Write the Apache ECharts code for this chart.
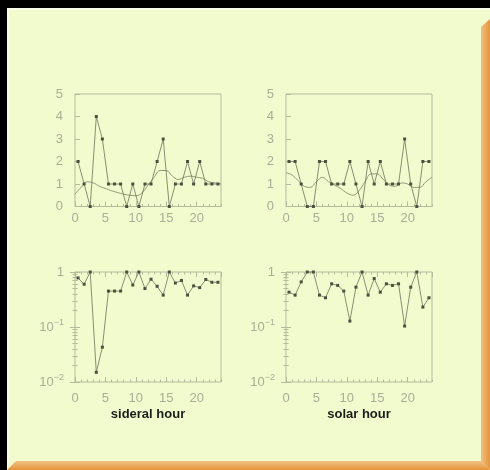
<!DOCTYPE html>
<html>
<head>
<meta charset="utf-8">
<script src="https://cdn.jsdelivr.net/npm/echarts@6/dist/echarts.min.js"></script>
<style>
  html, body { margin: 0; padding: 0; background: #000; }
  #stage { position: relative; width: 490px; height: 470px; overflow: hidden; background: #000; }
  #panel { position: absolute; left: 7px; top: 8px; width: 483px; height: 462px; background: #f1fbcd;
           box-shadow: inset 2px 2px 0 #fbffea; }
  #bevelRight { position: absolute; left: 481px; top: 8px; width: 9px; height: 462px;
                background: linear-gradient(to right, #efc080, #e5953f);
                clip-path: polygon(0 19px, 100% 11px, 100% 100%, 0 calc(100% - 9px)); }
  #bevelBottom { position: absolute; left: 7px; top: 461px; width: 483px; height: 9px;
                 background: linear-gradient(to bottom, #f0c283, #e5933d);
                 clip-path: polygon(9px 0, calc(100% - 9px) 0, 100% 100%, 0 100%); }
  #chart { position: absolute; left: 0; top: 0; width: 490px; height: 470px; }
</style>
</head>
<body>
<div id="stage">
  <div id="panel"></div>
  <div id="bevelRight"></div>
  <div id="bevelBottom"></div>
  <div id="chart"></div>
</div>
<script>
// Hour bins (events are plotted at the bin centre)
const hourBins = [0, 1, 2, 3, 4, 5, 6, 7, 8, 9, 10, 11, 12, 13, 14, 15, 16, 17, 18, 19, 20, 21, 22, 23];
// Hours at which the expected-rate curve is sampled
const curveHours = [0, 1, 2, 3, 4, 5, 6, 7, 8, 9, 10, 11, 12, 13, 14, 15, 16, 17, 18, 19, 20, 21, 22, 23, 24];

// Sidereal time: event counts, expected rate, chance probability
const siderealCounts = [2, 1, 0, 4, 3, 1, 1, 1, 0, 1, 0, 1, 1, 2, 3, 0, 1, 1, 2, 1, 2, 1, 1, 1];
const siderealExpected = [0.55, 0.85, 1.1, 1.05, 0.9, 0.8, 0.7, 0.62, 0.55, 0.5, 0.48, 0.6, 0.95, 1.3, 1.6,
                          1.6, 1.35, 1.2, 1.3, 1.35, 1.3, 1.25, 1.1, 1.05, 1.0];
const siderealProb = [0.78, 0.6, 1, 0.015, 0.043, 0.45, 0.45, 0.45, 1, 0.58, 1, 0.5, 0.74, 0.55, 0.38,
                      1, 0.63, 0.7, 0.38, 0.56, 0.52, 0.73, 0.65, 0.65];

// Solar time: event counts, expected rate, chance probability
const solarCounts = [2, 2, 1, 0, 0, 2, 2, 1, 1, 1, 2, 1, 0, 2, 1, 2, 1, 1, 1, 3, 1, 0, 2, 2];
const solarExpected = [1.5, 1.4, 1.15, 0.9, 0.85, 1.1, 1.3, 1.1, 0.95, 0.8, 0.6, 0.5, 0.7, 1.1, 1.45,
                       1.45, 1.2, 0.95, 0.9, 1.05, 1.0, 0.85, 0.85, 1.1, 1.3];
const solarProb = [0.43, 0.38, 0.66, 1, 1, 0.38, 0.34, 0.61, 0.57, 0.45, 0.128, 0.53, 1, 0.38, 0.76,
                   0.43, 0.61, 0.57, 0.61, 0.104, 0.53, 1, 0.23, 0.34];

// Axis tick values
const countTicks = [0, 1, 2, 3, 4, 5];
const hourLabelStep = 5;
const logMinorTicks = [0.02, 0.03, 0.04, 0.05, 0.06, 0.07, 0.08, 0.09,
                       0.2, 0.3, 0.4, 0.5, 0.6, 0.7, 0.8, 0.9];
const axisTitles = ['sideral hour', 'solar hour'];

const COL = { box: '#b5ba9c', label: '#a9ae97', line: '#6c735a', mark: '#4b513f', curve: '#7a8166', title: '#1c1c1c' };
const FONT = '"Liberation Sans", Arial, Helvetica, sans-serif';

const gridBoxes = [
  { left: 75, top: 94, width: 146, height: 112.5 },
  { left: 286, top: 94, width: 146, height: 112.5 },
  { left: 75, top: 272, width: 146, height: 110 },
  { left: 286, top: 272, width: 146, height: 110 }
];
const grid = gridBoxes.map(g => Object.assign({
  show: true, borderColor: COL.box, borderWidth: 1, backgroundColor: 'transparent'
}, g));

const tickStyle = { color: COL.box, width: 1 };
const labelBase = { color: COL.label, fontSize: 13, fontFamily: FONT };

const xAxis = [];
const yAxis = [];
const mainX = [];
const mainY = [];

function addHourAxes(gi, mirrored, title) {
  const common = { gridIndex: gi, type: 'value', min: 0, max: 24, splitLine: { show: false }, axisLine: { show: false } };
  mainX[gi] = xAxis.length;
  xAxis.push(Object.assign({}, common, {
    position: 'bottom', interval: hourLabelStep,
    axisTick: { inside: true, length: 5, lineStyle: tickStyle },
    axisLabel: Object.assign({}, labelBase, {
      margin: mirrored ? 10 : 5, showMaxLabel: false,
      formatter: v => (v % hourLabelStep === 0 && v < 24) ? String(v) : ''
    }),
    name: title || '', nameLocation: 'middle', nameGap: 26,
    nameTextStyle: { color: COL.title, fontSize: 13, fontWeight: 'bold', fontFamily: FONT }
  }));
  xAxis.push(Object.assign({}, common, {
    position: 'bottom', interval: 1,
    axisTick: { inside: true, length: 2.5, lineStyle: tickStyle }, axisLabel: { show: false }
  }));
  if (mirrored) {
    xAxis.push(Object.assign({}, common, {
      position: 'top', interval: hourLabelStep,
      axisTick: { inside: true, length: 5, lineStyle: tickStyle }, axisLabel: { show: false }
    }));
    xAxis.push(Object.assign({}, common, {
      position: 'top', interval: 1,
      axisTick: { inside: true, length: 2.5, lineStyle: tickStyle }, axisLabel: { show: false }
    }));
  }
}

function addCountAxis(gi) {
  mainY[gi] = yAxis.length;
  yAxis.push({
    gridIndex: gi, type: 'value', min: countTicks[0], max: countTicks[countTicks.length - 1], interval: 1,
    position: 'left', splitLine: { show: false }, axisLine: { show: false },
    axisTick: { inside: true, length: 5, lineStyle: tickStyle },
    axisLabel: Object.assign({}, labelBase, { margin: 12 })
  });
}

const powerLabel = v => {
  if (v >= 0.999) return '{b|1}';
  const e = Math.round(Math.log10(v));
  return '{b|10}{s|\u2212' + Math.abs(e) + '}';
};

function addProbAxes(gi) {
  const common = { gridIndex: gi, type: 'log', logBase: 10, min: 0.01, max: 1,
                   splitLine: { show: false }, axisLine: { show: false } };
  mainY[gi] = yAxis.length;
  yAxis.push(Object.assign({}, common, {
    position: 'left',
    axisTick: { inside: true, length: 5, lineStyle: tickStyle },
    axisLabel: {
      margin: 11, formatter: powerLabel,
      rich: {
        b: { color: COL.label, fontSize: 13, fontFamily: FONT },
        s: { color: COL.label, fontSize: 9, fontFamily: FONT, padding: [0, 0, 9, 0] }
      }
    }
  }));
  yAxis.push(Object.assign({}, common, {
    position: 'left',
    axisTick: { inside: true, length: 2.5, lineStyle: tickStyle, customValues: logMinorTicks },
    axisLabel: { show: false }
  }));
  yAxis.push(Object.assign({}, common, {
    position: 'right',
    axisTick: { inside: true, length: 5, lineStyle: tickStyle }, axisLabel: { show: false }
  }));
  yAxis.push(Object.assign({}, common, {
    position: 'right',
    axisTick: { inside: true, length: 2.5, lineStyle: tickStyle, customValues: logMinorTicks },
    axisLabel: { show: false }
  }));
}

addHourAxes(0, false); addCountAxis(0);
addHourAxes(1, false); addCountAxis(1);
addHourAxes(2, true, axisTitles[0]); addProbAxes(2);
addHourAxes(3, true, axisTitles[1]); addProbAxes(3);

const binned = vals => hourBins.map((h, i) => [h + 0.5, vals[i]]);
const sampled = vals => curveHours.map((h, i) => [h, vals[i]]);

function pointsSeries(gi, vals) {
  return {
    type: 'line', xAxisIndex: mainX[gi], yAxisIndex: mainY[gi], data: binned(vals),
    symbol: 'rect', symbolSize: 3, clip: false, silent: true, animation: false,
    itemStyle: { color: COL.mark },
    lineStyle: { color: COL.line, width: 0.8 }
  };
}
function curveSeries(gi, vals) {
  return {
    type: 'line', xAxisIndex: mainX[gi], yAxisIndex: mainY[gi], data: sampled(vals),
    smooth: 0.4, showSymbol: false, symbol: 'none', silent: true, animation: false,
    lineStyle: { color: COL.curve, width: 0.8 }
  };
}

const chart = echarts.init(document.getElementById('chart'), null, { renderer: 'canvas' });
chart.setOption({
  backgroundColor: 'transparent',
  animation: false,
  grid: grid,
  xAxis: xAxis,
  yAxis: yAxis,
  series: [
    curveSeries(0, siderealExpected),
    pointsSeries(0, siderealCounts),
    curveSeries(1, solarExpected),
    pointsSeries(1, solarCounts),
    pointsSeries(2, siderealProb),
    pointsSeries(3, solarProb)
  ]
});
</script>
</body>
</html>
